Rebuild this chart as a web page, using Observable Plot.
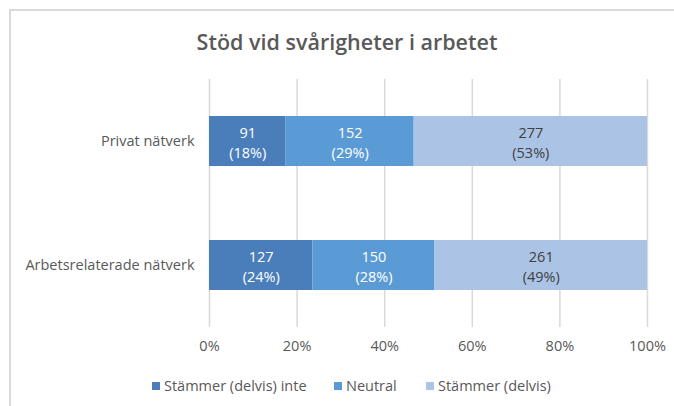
<!DOCTYPE html>
<html>
<head>
<meta charset="utf-8">
<script src="https://cdn.jsdelivr.net/npm/d3@7"></script>
<script src="https://cdn.jsdelivr.net/npm/@observablehq/plot@0.6"></script>
<style>
  html, body { margin: 0; padding: 0; background: #fff; }
  #wrap { position: relative; width: 674px; height: 406px; overflow: hidden; font-family: "Open Sans", sans-serif; }
  #frame { position: absolute; left: 9px; top: 9px; width: 700px; height: 500px; border-left: 2px solid #d9d9d9; border-top: 2px solid #d9d9d9; box-sizing: border-box; }
  #title { position: absolute; left: 0; width: 694px; top: 28px; text-align: center; font-size: 21.5px; font-weight: 600; color: #595959; line-height: 28px; }
  #chart { position: absolute; left: 0; top: 0; }
  #legend { position: absolute; top: 375px; left: 0; width: 674px; height: 22px; font-size: 14.5px; color: #595959; }
  .item { position: absolute; top: 0; line-height: 22px; white-space: nowrap; }
  .sw { display: inline-block; width: 8px; height: 8px; margin-right: 4px; vertical-align: 1px; }
</style>
</head>
<body>
<div id="wrap">
  <div id="frame"></div>
  <div id="chart"></div>
  <div id="title">Stöd vid svårigheter i arbetet</div>
  <div id="legend"></div>
</div>
<script>
const categories = ["Privat nätverk", "Arbetsrelaterade nätverk"];
const seriesNames = ["Stämmer (delvis) inte", "Neutral", "Stämmer (delvis)"];
const stammerInte = [91, 127];
const neutral = [152, 150];
const stammer = [277, 261];
const xTicks = [0, 0.2, 0.4, 0.6, 0.8, 1];
const colors = ["#4a7ebb", "#5b9bd5", "#abc4e6"];
const labelColors = ["#ffffff", "#ffffff", "#404040"];

const seriesValues = [stammerInte, neutral, stammer];
const data = [];
categories.forEach((cat, ci) => {
  const total = seriesValues.reduce((s, arr) => s + arr[ci], 0);
  seriesNames.forEach((s, si) => {
    const v = seriesValues[si][ci];
    data.push({cat, series: s, value: v, pct: Math.round(v / total * 100), si});
  });
});

const plot = Plot.plot({
  width: 674,
  height: 406,
  marginLeft: 209,
  marginRight: 27,
  marginTop: 79,
  marginBottom: 79,
  style: {fontFamily: "'Open Sans', sans-serif", fontSize: "14.5px", color: "#595959", background: "transparent"},
  x: {domain: [0, 1], ticks: xTicks, tickFormat: d3.format(".0%"), label: null},
  y: {domain: categories, paddingInner: 0.6, paddingOuter: 0.3, label: null},
  color: {domain: seriesNames, range: colors},
  marks: [
    Plot.gridX(xTicks, {stroke: "#d9d9d9", strokeOpacity: 1, strokeWidth: 1.5}),
    Plot.barX(data, Plot.stackX({x: "value", y: "cat", fill: "series", offset: "normalize"})),
    Plot.text(data, Plot.stackX({x: "value", y: "cat", z: "series", offset: "normalize",
      text: d => `${d.value}\n(${d.pct}%)`, fill: d => labelColors[d.si], fontSize: 14.5, lineHeight: 1.4})),
    Plot.axisX(xTicks, {tickSize: 0, tickPadding: 13, tickFormat: d3.format(".0%"), fill: "#595959", fontSize: 14.5, label: null}),
    Plot.axisY({tickSize: 0, tickPadding: 15, fill: "#595959", fontSize: 14.5, label: null})
  ]
});
document.getElementById("chart").appendChild(plot);

const legend = document.getElementById("legend");
const lefts = [152, 334, 426];
seriesNames.forEach((s, i) => {
  const it = document.createElement("div");
  it.className = "item";
  it.style.left = lefts[i] + "px";
  it.innerHTML = `<span class="sw" style="background:${colors[i]}"></span>${s}`;
  legend.appendChild(it);
});
</script>
</body>
</html>
